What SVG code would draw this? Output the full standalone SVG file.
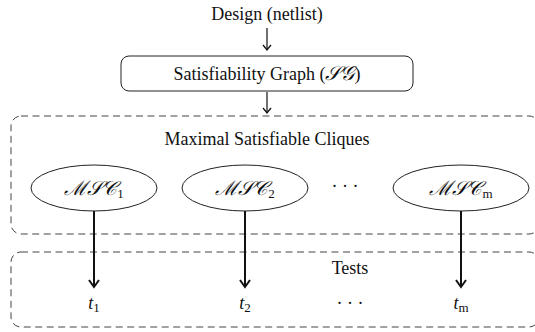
<svg xmlns="http://www.w3.org/2000/svg" width="535" height="332" viewBox="0 0 535 332">
<style>
text{font-family:"Liberation Serif","DejaVu Serif",serif;font-size:18px;fill:#111;text-anchor:middle}
.m{font-style:italic}
.cal{font-size:20px}
.sub{font-size:13px;font-style:normal}
.node{fill:#fff;stroke:#222;stroke-width:1}
.grp{fill:none;stroke:#444;stroke-width:1;stroke-dasharray:7 4.5}
.c{fill:none;stroke:#111;stroke-width:1.2}
.ct{fill:none;stroke:#111;stroke-width:2}
</style>
<defs>
<marker id="ah" viewBox="-6 -5 8 10" markerWidth="8" markerHeight="10" refX="0" refY="0" orient="auto" markerUnits="userSpaceOnUse">
<path d="M-5,-4 Q-1.5,-1 0,0 Q-1.5,1 -5,4" fill="none" stroke="#111" stroke-width="1.3"/>
</marker>
<marker id="ah2" viewBox="-8 -6 10 12" markerWidth="10" markerHeight="12" refX="0" refY="0" orient="auto" markerUnits="userSpaceOnUse">
<path d="M-7,-5 Q-2,-1.5 0,0 Q-2,1.5 -7,5" fill="none" stroke="#111" stroke-width="2"/>
</marker>
</defs>
<g id="design"><text x="267" y="20">Design (netlist)</text></g>
<g id="sg"><rect class="node" x="121" y="56" width="292" height="35" rx="8"/><text x="267" y="80">Satisfiability Graph (<tspan class="m cal">𝒮𝒢</tspan>)</text></g>
<g id="msc-group"><rect class="grp" x="11" y="116" width="528" height="118" rx="10"/><text x="267" y="145">Maximal Satisfiable Cliques</text></g>
<g id="msc1"><ellipse class="node" cx="94" cy="188" rx="63" ry="23"/><text x="94" y="195"><tspan class="m cal">ℳ𝒮𝒞</tspan><tspan class="sub" dy="3">1</tspan></text></g>
<g id="msc2"><ellipse class="node" cx="245" cy="188" rx="63" ry="23"/><text x="245" y="195"><tspan class="m cal">ℳ𝒮𝒞</tspan><tspan class="sub" dy="3">2</tspan></text></g>
<g id="dots1"><text x="345" y="192">· · ·</text></g>
<g id="mscm"><ellipse class="node" cx="461" cy="188" rx="68" ry="23"/><text x="461" y="195"><tspan class="m cal">ℳ𝒮𝒞</tspan><tspan class="sub m" dy="3">m</tspan></text></g>
<g id="tests"><rect class="grp" x="11" y="252" width="528" height="75" rx="10"/><text x="350" y="274">Tests</text>
<text class="m" x="94" y="309">t<tspan class="sub" dy="3">1</tspan></text>
<text class="m" x="245" y="309">t<tspan class="sub" dy="3">2</tspan></text>
<text x="350" y="309">· · ·</text>
<text class="m" x="461" y="309">t<tspan class="sub m" dy="3">m</tspan></text></g>
<g id="connectors">
<path class="c" d="M267,28 V50" marker-end="url(#ah)"/>
<path class="c" d="M267,92 V113" marker-end="url(#ah)"/>
<path class="ct" d="M94,211 V287" marker-end="url(#ah2)"/>
<path class="ct" d="M245,211 V287" marker-end="url(#ah2)"/>
<path class="ct" d="M461,211 V287" marker-end="url(#ah2)"/>
</g>
</svg>
